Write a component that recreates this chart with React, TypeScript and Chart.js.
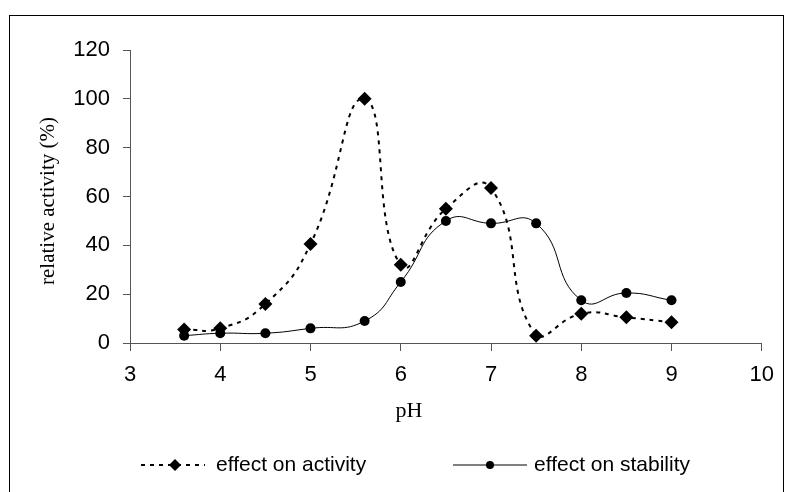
import React, { useEffect, useRef } from "react";
import { Chart, registerables } from "chart.js";

Chart.register(...registerables);

const phValues = [3.6, 4, 4.5, 5, 5.6, 6, 6.5, 7, 7.5, 8, 8.5, 9];
const activityValues = [5.5, 6, 16, 40.5, 100, 32, 55, 63.5, 3, 12, 10.5, 8.5];
const stabilityValues = [3, 4, 4, 6, 9, 25, 50, 49, 49, 17.5, 20.5, 17.5];
const seriesLabels = ["effect on activity", "effect on stability"];
const xTitle = "pH";
const yTitle = "relative activity (%)";

const SANS = "'Liberation Sans', Arial, sans-serif";
const SERIF = "'Liberation Serif', 'Times New Roman', serif";

const decorPlugin = {
  id: "decor",
  beforeDraw(chart: any) {
    const ctx = chart.ctx;
    ctx.save();
    ctx.fillStyle = "#ffffff";
    ctx.fillRect(0, 0, chart.width, chart.height);
    ctx.strokeStyle = "#000000";
    ctx.lineWidth = 1;
    ctx.strokeRect(9.5, 15.5, 774, 500);
    ctx.restore();
  },
  afterDraw(chart: any) {
    const ctx = chart.ctx;
    const area = chart.chartArea;
    ctx.save();
    ctx.fillStyle = "#000";
    // x title
    ctx.font = `22px ${SERIF}`;
    ctx.textAlign = "center";
    ctx.textBaseline = "middle";
    ctx.fillText(xTitle, 409, 411);
    // y title
    ctx.save();
    ctx.translate(48, 201);
    ctx.rotate(-Math.PI / 2);
    ctx.font = `21px ${SERIF}`;
    ctx.fillText(yTitle, 0, 0);
    ctx.restore();

    // legend
    const ly = 465;
    ctx.font = `21px ${SANS}`;
    ctx.textAlign = "left";
    ctx.textBaseline = "middle";
    // activity
    ctx.strokeStyle = "#000";
    ctx.lineWidth = 2;
    ctx.setLineDash([4, 5]);
    ctx.beginPath();
    ctx.moveTo(141, ly);
    ctx.lineTo(205, ly);
    ctx.stroke();
    ctx.setLineDash([]);
    ctx.beginPath();
    ctx.moveTo(175, ly - 6);
    ctx.lineTo(181, ly);
    ctx.lineTo(175, ly + 6);
    ctx.lineTo(169, ly);
    ctx.closePath();
    ctx.fill();
    ctx.fillText(seriesLabels[0], 216, ly);
    // stability
    ctx.lineWidth = 1;
    ctx.beginPath();
    ctx.moveTo(453, ly);
    ctx.lineTo(527, ly);
    ctx.stroke();
    ctx.beginPath();
    ctx.arc(490, ly, 4, 0, Math.PI * 2);
    ctx.fill();
    ctx.fillText(seriesLabels[1], 534, ly);
    ctx.restore();
  },
};

export default function App() {
  const ref = useRef<HTMLCanvasElement | null>(null);
  useEffect(() => {
    if (!ref.current) return;
    const chart = new Chart(ref.current, {
      type: "line",
      data: {
        datasets: [
          {
            label: seriesLabels[0],
            data: phValues.map((x, i) => ({ x, y: activityValues[i] })),
            borderColor: "#000",
            backgroundColor: "#000",
            borderWidth: 2,
            borderDash: [4, 5],
            pointStyle: "rectRot",
            pointRadius: 7,
            pointBorderWidth: 0,
            tension: 0.5,
            fill: false,
          },
          {
            label: seriesLabels[1],
            data: phValues.map((x, i) => ({ x, y: stabilityValues[i] })),
            borderColor: "#000",
            backgroundColor: "#000",
            borderWidth: 1,
            pointStyle: "circle",
            pointRadius: 5,
            pointBorderWidth: 0,
            tension: 0.5,
            fill: false,
          },
        ],
      },
      options: {
        animation: false,
        responsive: false,
        layout: { padding: { left: 70, right: 23, top: 50, bottom: 109 } },
        plugins: { legend: { display: false }, tooltip: { enabled: false } },
        scales: {
          x: {
            type: "linear",
            min: 3,
            max: 10,
            ticks: { stepSize: 1, color: "#000", font: { family: SANS, size: 22 }, padding: 11 },
            grid: { drawOnChartArea: false, drawTicks: true, tickLength: 8, color: "#555" },
            border: { display: true, color: "#555", width: 1 },
            afterFit: (s: any) => { s.height = 40; },
          },
          y: {
            min: 0,
            max: 120,
            ticks: { stepSize: 20, color: "#000", font: { family: SANS, size: 22 }, padding: 13 },
            grid: { drawOnChartArea: false, drawTicks: true, tickLength: 7, color: "#555" },
            border: { display: true, color: "#555", width: 1 },
            afterFit: (s: any) => { s.width = 60; },
          },
        },
      },
      plugins: [decorPlugin],
    });
    return () => chart.destroy();
  }, []);
  return (
    <div style={{ position: "fixed", left: 0, top: 0, width: 785, height: 492 }}>
      <canvas ref={ref} width={785} height={492} style={{ width: 785, height: 492 }} />
    </div>
  );
}
